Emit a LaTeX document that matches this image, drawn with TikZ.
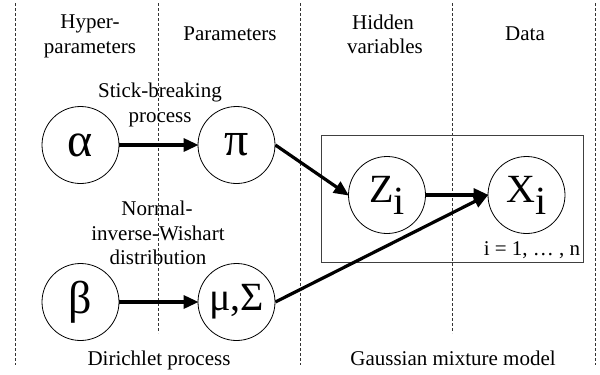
\documentclass[tikz,border=0pt]{standalone}
\usepackage{fontspec}
\setmainfont{Liberation Serif}
\usetikzlibrary{arrows.meta}
\begin{document}
\begin{tikzpicture}[x=1pt,y=-1pt,
  lbl/.style={anchor=base,inner sep=0pt,font=\fontsize{21}{25}\selectfont},
  var/.style={circle,draw=black,line width=0.8pt,minimum size=77pt,inner sep=0pt},
  sep/.style={draw=black!80,line width=0.7pt,dash pattern=on 3pt off 2pt},
  arr/.style={line width=3.2pt,-{Triangle[length=15pt,width=13pt]},shorten >=-1pt}]
\useasboundingbox (0,0) rectangle (600,375);
% separators
\coordinate (s1t) at (15,3); \coordinate (s1b) at (15,365);
\coordinate (s2t) at (158,3); \coordinate (s2b) at (158,333);
\coordinate (s3t) at (300,3); \coordinate (s3b) at (300,365);
\coordinate (s4t) at (452,3); \coordinate (s4b) at (452,333);
\coordinate (s5t) at (595,3); \coordinate (s5b) at (595,365);
\draw[sep] (s1t) -- (s1b);
\draw[sep] (s2t) -- (s2b);
\draw[sep] (s3t) -- (s3b);
\draw[sep] (s4t) -- (s4b);
\draw[sep] (s5t) -- (s5b);
% headers
\node[lbl] (h1) at (90,28) {Hyper-};
\node[lbl] (h2) at (90,53) {parameters};
\node[lbl] (h3) at (230,40) {Parameters};
\node[lbl] (h4) at (383,29) {Hidden};
\node[lbl] (h5) at (385,53) {variables};
\node[lbl] (h6) at (525,40) {Data};
% process labels
\node[lbl] (p1) at (160,97) {Stick-breaking};
\node[lbl] (p2) at (160,122) {process};
\node[lbl] (n1) at (157,215) {Normal-};
\node[lbl] (n2) at (158,240) {inverse-Wishart};
\node[lbl] (n3) at (158,264) {distribution};
\node[lbl] (f1) at (159,365) {Dirichlet process};
\node[lbl] (f2) at (453,365) {Gaussian mixture model};
% plate
\node[draw=black!75,line width=0.8pt,minimum width=262pt,minimum height=127pt,inner sep=0pt] (plate) at (452,198.5) {};
\node[anchor=base,inner sep=0pt,font=\fontsize{21}{24}\selectfont] (rng) at (532,255) {i = 1, … , n};
% variables
\node[var,font=\fontsize{48}{48}\selectfont] (alpha) at (80.5,145) {α};
\node[var,font=\fontsize{48}{48}\selectfont] (pi) at (236.5,145) {π};
\node[var,font=\fontsize{46}{46}\selectfont] (beta) at (80.5,302) {β};
\node[var,font=\fontsize{40}{40}\selectfont] (ms) at (236.5,302) {μ,Σ};
\node[var,font=\fontsize{40}{40}\selectfont] (z) at (387,195) {Z\raisebox{-12pt}{i}};
\node[var,font=\fontsize{40}{40}\selectfont] (x) at (526.5,195) {X\raisebox{-12pt}{i}};
% arrows
\draw[arr] (alpha) -- (pi);
\draw[arr] (beta) -- (ms);
\draw[arr] (pi.east) -- (z.west);
\draw[arr] (z) -- (x);
\draw[arr] (ms.east) -- (x.west);
\end{tikzpicture}
\end{document}
